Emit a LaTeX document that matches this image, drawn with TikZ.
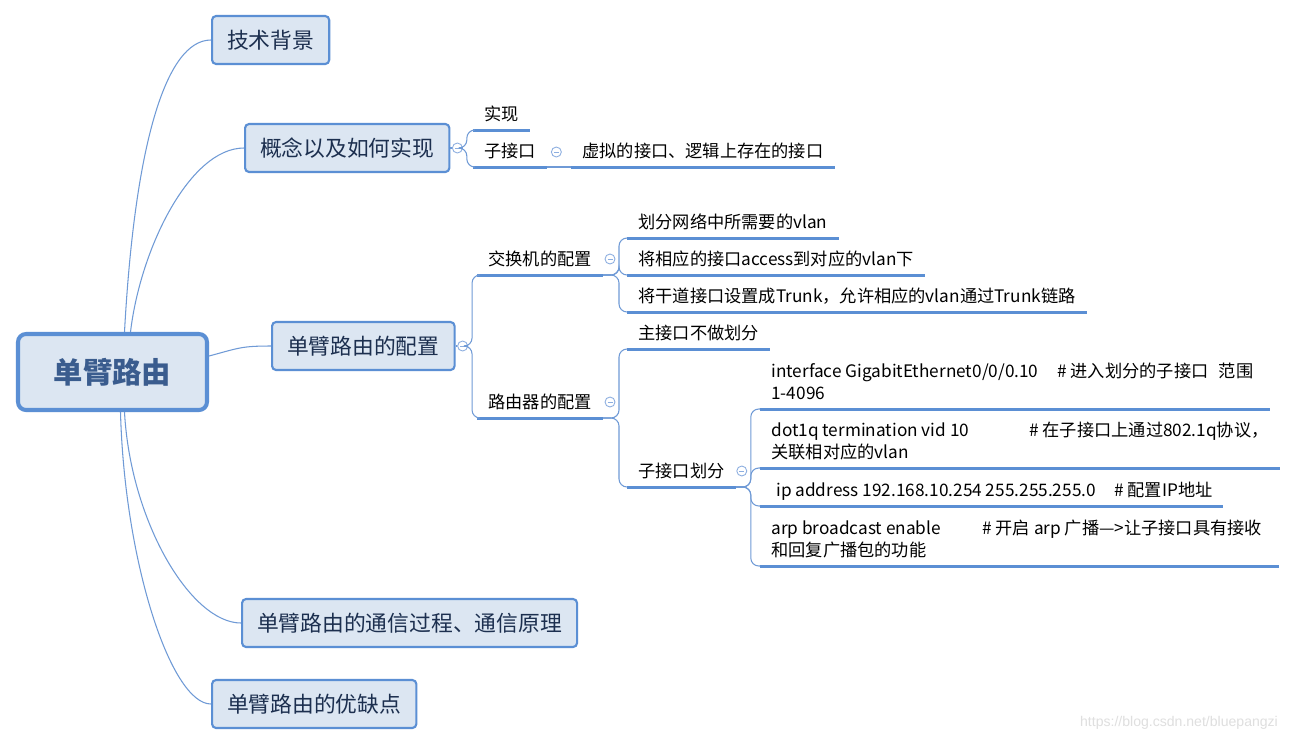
\documentclass[tikz,border=0pt]{standalone}
\usepackage{fontspec}
\setmainfont{Noto Sans CJK SC}
\newfontfamily\urlfont{Liberation Sans}
\usetikzlibrary{calc}
\definecolor{boxfill}{HTML}{DCE6F2}
\definecolor{boxline}{HTML}{5B8FD4}
\definecolor{boxtext}{HTML}{1C2F4F}
\definecolor{roottext}{HTML}{3A5C8E}
\definecolor{linkblue}{HTML}{6F9AD6}
\definecolor{foldblue}{HTML}{8CAEE0}
\newcommand{\cmdtext}[2]{\parbox[b]{#1}{\raggedright #2}}
\tikzset{
	central/.style={draw=boxline,fill=boxfill,line width=2.3pt,rounded corners=0.16cm,minimum width=3.78cm,minimum height=1.52cm,text=roottext,font=\fontsize{16.7}{20}\selectfont\bfseries},
	topic/.style={draw=boxline,fill=boxfill,line width=1.2pt,rounded corners=0.08cm,inner xsep=0.3cm,minimum height=0.96cm,text=boxtext,anchor=west,font=\fontsize{12.4}{15}\selectfont},
	leaf/.style={anchor=south west,inner xsep=0.22cm,inner ysep=0pt,text height=9pt,text depth=5.2pt,font=\fontsize{9.8}{12.5}\selectfont},
	uline/.style={draw=boxline,line width=1.7pt},
	link/.style={draw=linkblue,line width=0.6pt},
	branch/.style={link,rounded corners=0.16cm},
	fold/.style={circle,draw=foldblue,line width=0.5pt,minimum size=0.2cm,inner sep=0pt,
		path picture={\draw[foldblue,line width=0.5pt] ([xshift=-0.05cm]path picture bounding box.center)--([xshift=0.05cm]path picture bounding box.center);}}
}
\begin{document}
\begin{tikzpicture}[x=0.02cm,y=-0.02cm]
\useasboundingbox[fill=white] (0,0) rectangle (1298,745);
\node[central] (root) at (112.5,372) {单臂路由};
\node[topic] (bg) at (211,40) {技术背景};
\node[topic] (cpt) at (244,148) {概念以及如何实现};
\node[topic] (cfg) at (271,346) {单臂路由的配置};
\node[topic] (comm) at (241,623) {单臂路由的通信过程、通信原理};
\node[topic] (pros) at (211,704) {单臂路由的优缺点};
\draw[link] ($(root.north)+(12,0)$) .. controls +(10,-184) and +(-46,0) .. (bg.west);
\draw[link] ($(root.north)+(18,0)$) .. controls +(10,-84) and +(-54,0) .. (cpt.west);
\draw[link] ($(root.east)+(0,-16)$) .. controls +(30,-8) and +(-30,0) .. (cfg.west);
\draw[link] ($(root.south)+(12,0)$) .. controls +(6,110) and +(-50,0) .. (comm.west);
\draw[link] ($(root.south)+(8,0)$) .. controls +(4,150) and +(-40,0) .. (pros.west);
\node[leaf] (shi) at (473,130) {实现};
\node[leaf] (subif) at (473,167) {子接口};
\node[leaf] (virt) at (571,167) {虚拟的接口、逻辑上存在的接口};
\node[leaf] (sw) at (477,275) {交换机的配置};
\node[leaf] (rt) at (477,418) {路由器的配置};
\node[leaf] (sw1) at (627,238) {划分网络中所需要的vlan};
\node[leaf] (sw2) at (627,275) {将相应的接口access到对应的vlan下};
\node[leaf] (sw3) at (627,312) {将干道接口设置成Trunk，允许相应的vlan通过Trunk链路};
\node[leaf] (rt1) at (627,349) {主接口不做划分};
\node[leaf] (rt2) at (627,487) {子接口划分};
\node[leaf] (cmd1) at (760,409) {\cmdtext{9.74cm}{\mbox{\makebox[5.72cm][l]{interface GigabitEthernet0/0/0.10}\# 进入划分的子接口\hspace{0.6em}范围}\\1-4096}};
\node[leaf] (cmd2) at (760,468) {\cmdtext{9.94cm}{\mbox{\makebox[5.16cm][l]{dot1q termination vid 10}\# 在子接口上通过802.1q协议，}\\关联相对应的vlan}};
\node[leaf] (cmd3) at (760,506) {\cmdtext{8.8cm}{\mbox{\makebox[6.86cm][l]{\hspace{0.1cm}ip address 192.168.10.254 255.255.255.0}\# 配置IP地址}}};
\node[leaf] (cmd4) at (760,566) {\cmdtext{9.92cm}{\mbox{\makebox[4.22cm][l]{arp broadcast enable}\# 开启 arp 广播—>让子接口具有接收}\\和回复广播包的功能}};
\foreach \n in {shi,subif,virt,sw,rt,sw1,sw2,sw3,rt1,rt2,cmd1,cmd2,cmd3,cmd4}
	\draw[uline] (\n.south west) -- (\n.south east);
\node[fold] (m1) at ($(cpt.east)+(7,0)$) {};
\node[fold] (m2) at ($(cfg.east)+(7,0)$) {};
\node[fold] (m3) at ($(subif.south east)+(9,-15)$) {};
\node[fold] (m4) at ($(sw.south east)+(7,-16)$) {};
\node[fold] (m5) at ($(rt.south east)+(7,-16)$) {};
\node[fold] (m6) at ($(rt2.south east)+(6,-16)$) {};
\draw[link] (cpt.east) -- (m1.west);
\draw[link] (cfg.east) -- (m2.west);
\draw[branch] (m1.east) -- ++(4,0) |- (shi.south west);
\draw[branch] (m1.east) -- ++(4,0) |- (subif.south west);
\draw[link] (subif.south east) -- (virt.south west);
\draw[branch] (m2.east) -- ++(4,0) |- (sw.south west);
\draw[branch] (m2.east) -- ++(4,0) |- (rt.south west);
\foreach \n in {sw1,sw2,sw3}
	\draw[branch] (sw.south east) -- ++(16,0) |- (\n.south west);
\foreach \n in {rt1,rt2}
	\draw[branch] (rt.south east) -- ++(16,0) |- (\n.south west);
\foreach \n in {cmd1,cmd2,cmd3,cmd4}
	\draw[branch] (rt2.south east) -- ++(15,0) |- (\n.south west);
\node[text=gray!25,font=\urlfont\fontsize{8}{10}\selectfont] (url) at (1179,723) {https://blog.csdn.net/bluepangzi};
\end{tikzpicture}
\end{document}
